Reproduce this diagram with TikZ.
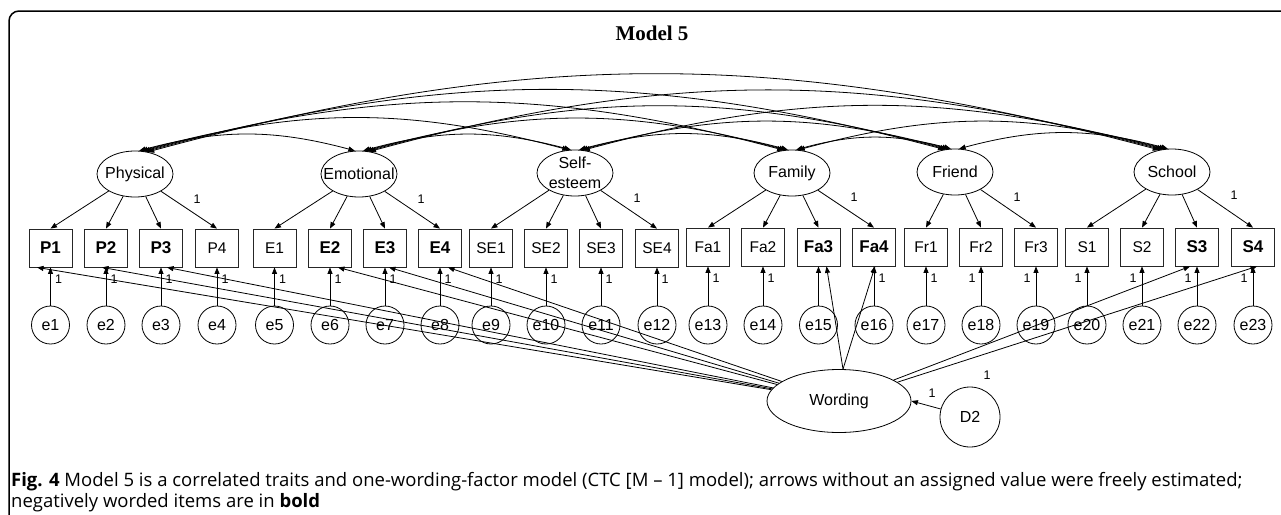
\documentclass[tikz,border=0pt]{standalone}
\usepackage{fontspec}
\setmainfont{Liberation Sans}
\newfontfamily\titlefont{Liberation Serif}
\newfontfamily\capfont{Open Sans}
\usetikzlibrary{arrows.meta,shapes.geometric}
\newcommand{\bitem}[1]{{\fontsize{17}{20}\selectfont\bfseries #1}}
\begin{document}
\begin{tikzpicture}[x=1pt,y=-1pt,
  tip/.tip={Triangle[length=6.5pt,width=5pt]},
  obs/.style={draw=black!85, rectangle, minimum width=43pt, minimum height=38pt, inner sep=0pt, line width=0.8pt, font=\fontsize{15.5}{18}\selectfont},
  lat/.style={draw, ellipse, minimum width=76pt, minimum height=46pt, inner sep=0pt, line width=0.8pt, label={[font=\fontsize{16}{20}\selectfont, align=center]center:#1}},
  err/.style={draw, circle, minimum size=38pt, inner sep=0pt, line width=0.8pt, font=\fontsize{16}{18}\selectfont},
  path/.style={-tip, line width=0.8pt},
  cov/.style={tip-tip, line width=0.8pt, bend left=15},
  one/.style={font=\fontsize{12.5}{13}\selectfont, inner sep=0pt},
  captext/.style={anchor=west, inner sep=0pt, font=\capfont\fontsize{18.5}{21}\selectfont}
]
\useasboundingbox (0,0) rectangle (1281,514);
% frame
\draw[line width=1.5pt, rounded corners=10pt] (9,530) -- (9,11) -- (1300,11);
\node[font=\titlefont\bfseries\fontsize{21}{24}\selectfont] (title) at (652,33) {Model 5};

% latent factors
\node[lat=Physical] (Ph) at (135,174) {};
\node[lat=Emotional] (Em) at (359,174) {};
\node[lat={Self-\\esteem}] (Se) at (575,173) {};
\node[lat=Family] (Fa) at (792,173) {};
\node[lat=Friend] (Fr) at (955,172) {};
\node[lat=School] (Sc) at (1172,172) {};

% indicators
\node[obs] (P1) at (50.5,248) {\bitem{P1}};
\node[obs] (P2) at (106,248) {\bitem{P2}};
\node[obs] (P3) at (161,248) {\bitem{P3}};
\node[obs] (P4) at (217,248) {P4};
\node[obs] (E1) at (274.5,248) {E1};
\node[obs] (E2) at (330,248) {\bitem{E2}};
\node[obs] (E3) at (385,248) {\bitem{E3}};
\node[obs] (E4) at (440,248) {\bitem{E4}};
\node[obs] (SE1) at (491,248) {SE1};
\node[obs] (SE2) at (546,248) {SE2};
\node[obs] (SE3) at (601,248) {SE3};
\node[obs] (SE4) at (657,248) {SE4};
\node[obs] (Fa1) at (708,247) {Fa1};
\node[obs] (Fa2) at (763,247) {Fa2};
\node[obs] (Fa3) at (818.5,247) {\bitem{Fa3}};
\node[obs] (Fa4) at (874,247) {\bitem{Fa4}};
\node[obs] (Fr1) at (926,247) {Fr1};
\node[obs] (Fr2) at (981,247) {Fr2};
\node[obs] (Fr3) at (1036,247) {Fr3};
\node[obs] (S1) at (1087,247) {S1};
\node[obs] (S2) at (1142,247) {S2};
\node[obs] (S3) at (1197,247) {\bitem{S3}};
\node[obs] (S4) at (1253,247) {\bitem{S4}};

% loadings
\foreach \n in {P1,P2,P3,P4} \draw[path] (Ph) -- (\n.north);
\foreach \n in {E1,E2,E3,E4} \draw[path] (Em) -- (\n.north);
\foreach \n in {SE1,SE2,SE3,SE4} \draw[path] (Se) -- (\n.north);
\foreach \n in {Fa1,Fa2,Fa3,Fa4} \draw[path] (Fa) -- (\n.north);
\foreach \n in {Fr1,Fr2,Fr3} \draw[path] (Fr) -- (\n.north);
\foreach \n in {S1,S2,S3,S4} \draw[path] (Sc) -- (\n.north);
\node[one] (lPh) at (197,199) {1};
\node[one] (lEm) at (421,199) {1};
\node[one] (lSe) at (637,198) {1};
\node[one] (lFa) at (854,197) {1};
\node[one] (lFr) at (1017,197) {1};
\node[one] (lSc) at (1234,195) {1};

% errors
\foreach \n [count=\i] in {P1,P2,P3,P4,E1,E2,E3,E4,SE1,SE2,SE3,SE4,Fa1,Fa2,Fa3,Fa4,Fr1,Fr2,Fr3,S1,S2,S3,S4} {
  \node[err] (e\i) at (\n.south |- 0,325) {e\i};
  \draw[path] (e\i) -- (\n);
}
\foreach \n [count=\i] in {P1,P2,P3,P4,E1,E2,E3,E4,SE1,SE2,SE3,SE4,Fa1,Fa2} {
  \node[one] (le\i) at ([xshift=8pt,yshift=-12pt]\n.south) {1};
}
\foreach \n/\i in {Fa4/16,Fr1/17} {
  \node[one] (le\i) at ([xshift=8pt,yshift=-12pt]\n.south) {1};
}
\foreach \n/\i in {Fr2/18,Fr3/19,S1/20,S2/21,S3/22,S4/23} {
  \node[one] (le\i) at ([xshift=-9pt,yshift=-12pt]\n.south) {1};
}

% covariances
\draw[cov] (Ph.80) to (Em.100);
\draw[cov] (Ph.75) to (Se.105);
\draw[cov] (Ph.70) to (Fa.110);
\draw[cov] (Ph.65) to (Fr.115);
\draw[cov] (Ph.60) to (Sc.120);
\draw[cov] (Em.80) to (Se.100);
\draw[cov] (Em.75) to (Fa.105);
\draw[cov] (Em.70) to (Fr.110);
\draw[cov] (Em.65) to (Sc.115);
\draw[cov] (Se.80) to (Fa.100);
\draw[cov] (Se.75) to (Fr.105);
\draw[cov] (Se.70) to (Sc.110);
\draw[cov] (Fa.80) to (Fr.100);
\draw[cov] (Fa.75) to (Sc.105);
\draw[cov] (Fr.80) to (Sc.100);

% wording factor
\node[draw, ellipse, minimum width=144pt, minimum height=63pt, inner sep=0pt, line width=0.8pt, font=\fontsize{16}{18}\selectfont] (W) at (839,401) {Wording};
\node[err, minimum size=60pt] (D2) at (970,417) {D2};
\draw[path] (D2) -- (W.east);
\node[one] (lD2) at (932,393) {1};
\node[one] (lW) at (987,375) {1};
\foreach \n/\s in {P1/-13.5,P2/-4,P3/6,E2/8,E3/4,E4/8,S3/-7,S4/4}
  \draw[path] (W) -- ([xshift=\s pt]\n.south);
\draw[path] ([xshift=4pt]W.north) -- ([xshift=8pt]Fa3.south);
\draw[path] ([xshift=4pt]W.north) -- ([xshift=1pt]Fa4.south);

% caption
\node[captext] (cap1) at (11,482)
  {\textbf{Fig. 4} Model 5 is a correlated traits and one-wording-factor model (CTC [M – 1] model); arrows without an assigned value were freely estimated;};
\node[captext] (cap2) at (11,503)
  {negatively worded items are in \textbf{bold}};
\end{tikzpicture}
\end{document}
